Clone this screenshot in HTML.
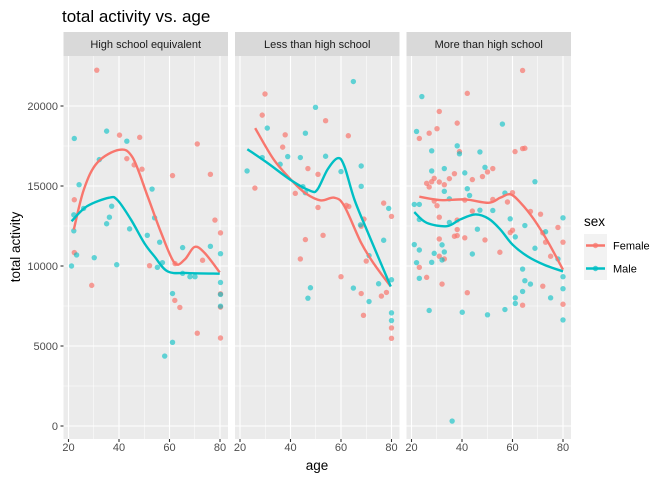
<!DOCTYPE html>
<html><head><meta charset="utf-8"><style>
body{margin:0;background:#fff;font-family:"Liberation Sans",Arial,sans-serif;}
svg{display:block}
</style></head><body>
<svg id="chart" width="672" height="480"></svg>
<script>
const facets = ["High school equivalent","Less than high school","More than high school"];
const femaleAge = [
 [31.2,48.2,40.2,71.0,43.1,46.0,49.1,61.2,76.2,22.3,78.0,80.2,22.3,29.2,52.1,62.2,73.1,62.1,64.1,80.2,80.2,71.0,80.2],
 [29.9,28.8,53.9,37.9,62.9,36.9,46.9,50.9,25.9,41.9,62.1,63.1,76.9,80.0,50.9,68.0,69.1,45.9,52.9,43.9,70.0,60.0,68.0,76.0,78.0,68.9,80.0,80.0],
 [64.0,42.1,31.0,38.1,27.0,30.1,23.1,61.0,64.0,64.9,39.0,52.2,50.1,48.1,37.0,35.0,33.0,31.0,29.0,28.0,26.0,27.0,44.1,60.0,58.0,29.0,30.1,41.1,52.2,44.1,67.1,71.1,31.0,38.1,78.0,72.0,60.0,59.1,38.1,37.0,38.1,41.1,31.0,49.1,80.0,73.1,55.0,31.0,33.0,75.1,23.1,26.0,32.1,42.1,72.0,64.0,80.0]
];
const femaleVal = [
 [22240,18040,18180,17630,16710,16320,16050,15650,15730,14140,12870,12070,10840,8790,10020,10150,10360,7850,7410,8260,7430,5800,5500],
 [20750,19430,19080,18200,18140,17430,16090,15730,14870,14540,13790,13720,13930,13100,13660,12490,12930,11650,11920,10440,10310,9330,8280,8120,8350,6920,6130,5480],
 [22220,20790,19660,18930,18300,18580,17970,17150,17340,17360,17150,16090,15880,15590,15770,15460,15080,15250,15480,15270,15170,14940,15400,14580,14000,14060,13770,14120,14160,13430,13410,13240,13050,12870,12410,12070,12240,12090,12280,11860,11900,11760,11690,11630,11490,11490,10860,10610,10440,10610,9920,9290,8870,8330,8740,7550,7610]
];
const maleAge = [
 [22.3,35.1,43.1,24.2,32.2,53.1,22.1,26.0,37.1,36.2,35.1,44.2,22.1,23.2,21.2,30.2,39.1,51.2,54.1,56.1,55.2,57.2,65.2,76.2,80.2,65.2,68.1,70.1,61.2,80.2,80.2,80.2,61.2,58.1],
 [64.9,49.9,30.8,45.9,22.8,28.8,35.9,38.9,43.9,53.9,60.0,68.0,68.0,44.9,45.9,78.9,67.7,71.1,76.9,80.0,74.9,64.9,47.9,46.9,71.1,80.0,80.0],
 [24.1,22.0,56.0,28.0,38.1,39.0,47.1,49.1,28.0,33.0,41.1,68.9,42.1,43.0,57.0,33.0,35.0,21.1,23.1,23.1,47.1,52.2,59.1,80.0,35.0,46.1,64.9,61.1,73.1,78.0,68.9,21.1,23.1,32.1,29.0,33.0,32.1,28.0,44.1,22.0,23.1,64.0,64.9,67.1,80.0,80.0,64.0,61.1,61.1,75.1,57.0,50.1,40.1,27.0,80.0,36.1]
];
const maleVal = [
 [17970,18430,17800,15080,16650,14810,13200,13600,13740,13050,12640,12320,12200,10690,10000,10520,10080,11920,13010,11490,9920,10210,11150,11230,10770,9540,9330,9330,8280,8970,8220,7490,5230,4370],
 [21530,19920,18620,18300,15940,16780,16360,16840,16780,16860,15900,16250,14980,14960,14580,13600,12570,10650,11610,9140,8890,8620,8640,7990,7780,7070,6590],
 [20590,18410,18870,17200,17510,17010,17130,16170,15940,16090,15820,15270,14830,14410,14560,14670,14200,13850,13850,12910,13490,13470,12950,13010,12720,12300,12530,11820,12140,10440,11110,11340,11000,11320,10790,10880,10380,10230,10750,10210,9230,9810,9080,8870,9330,8580,8410,8010,7660,8010,7280,6950,7110,7220,6630,310]
];
const femaleSmoothAge = [
 [22.1,26.1,31.4,40.1,45.4,51.3,56.7,62.0,66.0,69.9,73.9,79.9],
 [26.0,33.3,40.7,46.0,52.0,57.3,61.3,68.0,73.3,79.7],
 [23.1,31.3,41.3,50.6,55.2,59.2,63.2,68.5,73.9,80.0]
];
const femaleSmoothVal = [
 [12280,14790,16460,17260,16780,14370,12070,10190,10400,11190,10820,9600],
 [18620,16670,15310,14540,14100,14270,13750,11440,10080,8720],
 [14330,14120,14160,13950,14270,14480,13950,12910,11550,9770]
];
const maleSmoothAge = [
 [21.2,27.4,36.1,39.4,44.7,50.0,54.0,59.3,67.3,79.9],
 [22.9,30.7,40.7,48.0,50.7,54.7,58.7,61.3,65.3,70.7,79.7],
 [21.1,26.0,34.0,39.3,45.3,50.6,55.2,60.0,65.9,72.5,80.0]
];
const maleSmoothVal = [
 [12800,13740,14270,14120,12910,11440,10610,9660,9560,9520],
 [17300,16460,15310,14690,14790,16040,16740,16250,14160,12070,8720],
 [13370,12700,12490,12910,13220,12950,12280,11340,10610,10080,9660]
];
const xTicks = [20,40,60,80];
const xMinor = [30,50,70];
const yTicks = [0,5000,10000,15000,20000];
const yMinor = [2500,7500,12500,17500];

const NS="http://www.w3.org/2000/svg";
const svg=document.getElementById('chart');
function el(t,a,p){const e=document.createElementNS(NS,t);for(const k in a)e.setAttribute(k,a[k]);(p||svg).appendChild(e);return e;}
const panelLeft=[63.5,235,406.5], PW=164.5, PT=56, PB=439;
const xMin=18.02, xMax=83.17;
function xs(i,v){return panelLeft[i]+(v-xMin)/(xMax-xMin)*PW;}
function ys(v){return 426-v*0.016;}
const RED="#F8766D", TEAL="#00BFC4";

let t=el('text',{x:62,y:22,'font-size':17,fill:'#000'});t.textContent='total activity vs. age';



function smooth(pts){let d=`M${pts[0][0]},${pts[0][1]}`;for(let i=0;i<pts.length-1;i++){const p0=pts[Math.max(0,i-1)],p1=pts[i],p2=pts[i+1],p3=pts[Math.min(pts.length-1,i+2)];d+=` C${p1[0]+(p2[0]-p0[0])/6},${p1[1]+(p2[1]-p0[1])/6} ${p2[0]-(p3[0]-p1[0])/6},${p2[1]-(p3[1]-p1[1])/6} ${p2[0]},${p2[1]}`;}return d;}

facets.forEach((f,i)=>{
  const g=el('g',{});
  
  
  const L=panelLeft[i];
  const bg=el('rect',{x:L,y:PT,width:PW,height:PB-PT,fill:'#EBEBEB'},g);
  
  
  yMinor.forEach(v=>el('line',{x1:L,x2:L+PW,y1:ys(v),y2:ys(v),stroke:'#fff','stroke-width':0.5},g));
  xMinor.forEach(v=>el('line',{x1:xs(i,v),x2:xs(i,v),y1:PT,y2:PB,stroke:'#fff','stroke-width':0.5},g));
  yTicks.forEach(v=>el('line',{x1:L,x2:L+PW,y1:ys(v),y2:ys(v),stroke:'#fff','stroke-width':1.1},g));
  xTicks.forEach(v=>{
    el('line',{x1:xs(i,v),x2:xs(i,v),y1:PT,y2:PB,stroke:'#fff','stroke-width':1.1},g);
    el('line',{x1:xs(i,v),x2:xs(i,v),y1:PB,y2:PB+3,stroke:'#333','stroke-width':1.1},g);
    const tl=el('text',{x:xs(i,v),y:PB+12,'font-size':11,fill:'#4D4D4D','text-anchor':'middle'},g);tl.textContent=v;
    
    
  });
  const st=el('rect',{x:L,y:32,width:PW,height:24,fill:'#D9D9D9'},g);
  
  
  const sl=el('text',{x:L+PW/2,y:48,'font-size':11,fill:'#1A1A1A','text-anchor':'middle'},g);sl.textContent=f;
  
  
  femaleAge[i].forEach((a,j)=>{const c=el('circle',{cx:xs(i,a),cy:ys(femaleVal[i][j]),r:2.7,fill:RED,'fill-opacity':0.7},g);
    
    });
  maleAge[i].forEach((a,j)=>{const c=el('circle',{cx:xs(i,a),cy:ys(maleVal[i][j]),r:2.7,fill:TEAL,'fill-opacity':0.6},g);
    
    });
  const fl=el('path',{d:smooth(femaleSmoothAge[i].map((a,j)=>[xs(i,a),ys(femaleSmoothVal[i][j])])),fill:'none',stroke:RED,'stroke-width':2.4},g);
  
  
  const ml=el('path',{d:smooth(maleSmoothAge[i].map((a,j)=>[xs(i,a),ys(maleSmoothVal[i][j])])),fill:'none',stroke:TEAL,'stroke-width':2.4},g);
  
  
});
yTicks.forEach(v=>{
  el('line',{x1:60.5,x2:63.5,y1:ys(v),y2:ys(v),stroke:'#333','stroke-width':1.1});
  const tl=el('text',{x:58,y:ys(v)+4,'font-size':11,fill:'#4D4D4D','text-anchor':'end'});tl.textContent=v;
  
  
});
t=el('text',{x:317,y:470,'font-size':13.5,fill:'#000','text-anchor':'middle'});t.textContent='age';


t=el('text',{x:0,y:0,'font-size':13.5,fill:'#000','text-anchor':'middle',transform:'translate(20,247) rotate(-90)'});t.textContent='total activity';


t=el('text',{x:584,y:226,'font-size':13.5,fill:'#000'});t.textContent='sex';


[['Female',RED,245],['Male',TEAL,268]].forEach(([n,c,y])=>{
  const g=el('g',{});
  
  
  el('rect',{x:584,y:y-11,width:23,height:23,fill:'#F2F2F2'},g);
  el('line',{x1:586,x2:605,y1:y+0.5,y2:y+0.5,stroke:c,'stroke-width':2.4},g);
  el('circle',{cx:595.5,cy:y+0.5,r:2.7,fill:c,'fill-opacity':0.7},g);
  const tl=el('text',{x:613,y:y+4.5,'font-size':11,fill:'#000'},g);tl.textContent=n;
});
</script>
</body></html>
